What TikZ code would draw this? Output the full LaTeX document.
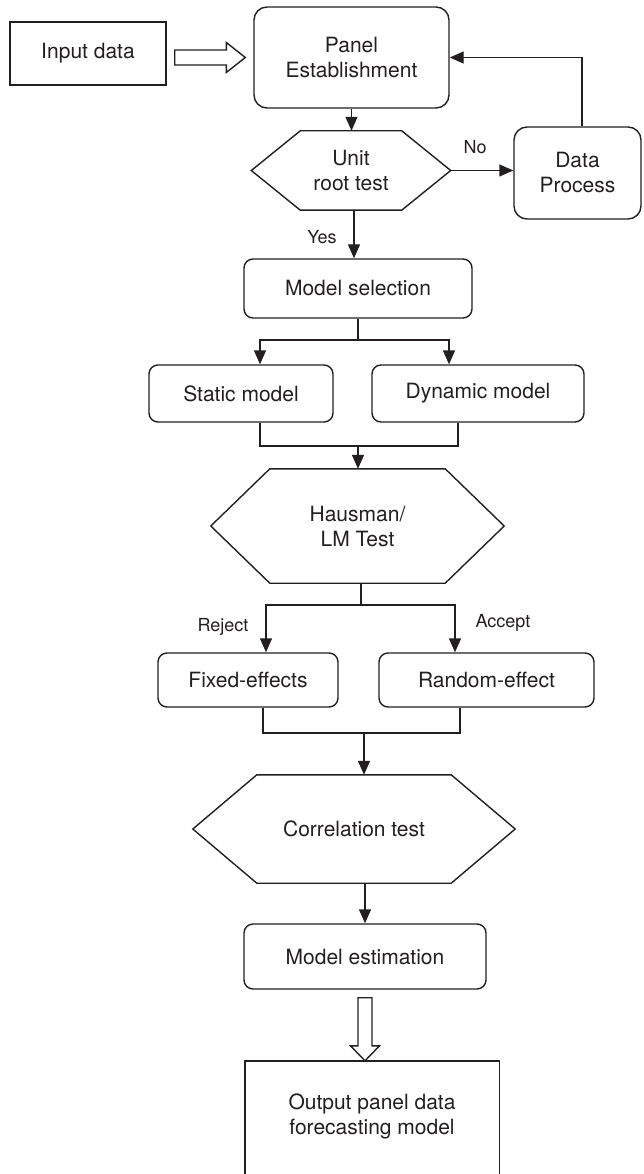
\documentclass[tikz,border=0pt]{standalone}
\usepackage{fontspec}
\setmainfont{TeX Gyre Heros}
\usetikzlibrary{arrows.meta,calc}
\definecolor{ink}{HTML}{231F20}
\newcommand{\hexdraw}[2]{\draw[line] (#1.west) -- ([xshift=#2]#1.north west) -- ([xshift=-#2]#1.north east) -- (#1.east) -- ([xshift=-#2]#1.south east) -- ([xshift=#2]#1.south west) -- cycle;}
\begin{document}
\begin{tikzpicture}[x=1pt,y=-1pt,
  every node/.style={font=\fontsize{21}{25}\selectfont, text=ink, inner sep=0pt, align=center},
  line/.style={draw=ink, line width=1.4pt},
  plainbox/.style={line, rectangle},
  rbox/.style={line, rectangle, rounded corners=9pt},
  bigrbox/.style={line, rectangle, rounded corners=13pt},
  hexbox/.style={rectangle},
  lbl/.style={font=\fontsize{18}{21}\selectfont},
  arr/.style={line, -{Triangle[length=14pt,width=12pt]}},
  hollow/.style={line, fill=white, line join=miter}
]
\useasboundingbox (0,0) rectangle (643,1174);
\clip (0,0) rectangle (643,1174);

% nodes
\node[plainbox, minimum width=156pt, minimum height=63pt] (input) at (88,53.5) {Input data};
\node[bigrbox, minimum width=195pt, minimum height=101pt] (panel) at (351.5,57.5) {Panel\\Establishment};
\node[hexbox, minimum width=199pt, minimum height=79pt] (unit) at (351,170.5) {Unit\\root test};
\node[bigrbox, minimum width=127pt, minimum height=92pt] (data) at (577.5,173) {Data\\Process};
\node[rbox, minimum width=228pt, minimum height=59pt] (ms) at (358,288.5) {Model selection};
\node[rbox, minimum width=184pt, minimum height=57pt] (static) at (241,393.5) {Static model};
\node[rbox, minimum width=212pt, minimum height=57pt] (dynamic) at (478,393.5) {Dynamic model};
\node[hexbox, minimum width=293pt, minimum height=114pt] (haus) at (357.5,526) {Hausman/\\LM Test};
\node[rbox, minimum width=180pt, minimum height=54pt] (fixed) at (248,680) {Fixed-effects};
\node[rbox, minimum width=215pt, minimum height=54pt] (random) at (486.5,680) {Random-effect};
\node[hexbox, minimum width=322pt, minimum height=108pt] (corr) at (354,829) {Correlation test};
\node[rbox, minimum width=242pt, minimum height=65pt] (me) at (365,956.5) {Model estimation};
\node[rectangle, minimum width=254pt, minimum height=111pt] (out) at (372,1116.5) {Output panel data\\forecasting model};
% output box runs off the bottom edge of the picture
\draw[line] ([yshift=-12pt]out.south west) -- (out.north west) -- (out.north east) -- ([yshift=-12pt]out.south east);

% hexagons
\hexdraw{unit}{49pt}
\hexdraw{haus}{59pt}
\hexdraw{corr}{64pt}

% labels
\node[lbl] (no) at (475,147) {No};
\node[lbl] (yes) at (322,237) {Yes};
\node[lbl] (rej) at (223,627) {Reject};
\node[lbl] (acc) at (503,623) {Accept};

% junction coordinates
\coordinate (s1) at (358,340);
\coordinate (m1) at (358,446);
\coordinate (s2) at (361,605);
\coordinate (m2) at (364,733);

% hollow arrow input -> panel
\draw[hollow] let \p1=([xshift=8pt]input.east), \p2=([xshift=-8pt]panel.west) in
  (\x1,\y2+7.5pt) -- (\x2-19pt,\y2+7.5pt) -- (\x2-19pt,\y2+15pt) -- (\x2,\y2)
  -- (\x2-19pt,\y2-15pt) -- (\x2-19pt,\y2-7.5pt) -- (\x1,\y2-7.5pt) -- cycle;

% connectors
\draw[arr] (panel.south) -- (panel.south |- unit.north);
\draw[arr] (unit.east) -- (unit.east -| data.west);
\draw[arr] ([xshift=4.5pt]data.north) |- (panel.east);
\draw[arr] ([xshift=3pt]unit.south) -- ([xshift=3pt]unit.south |- ms.north);
\draw[line] (s1 |- ms.south) -- (s1);
\draw[arr] (s1) -| ([xshift=19pt]static.north);
\draw[arr] (s1) -| ([xshift=-29pt]dynamic.north);
\draw[line] ([xshift=19pt]static.south) |- (m1) -| ([xshift=-20pt]dynamic.south);
\draw[arr] (m1) -- (m1 |- haus.north);
\draw[line] (s2 |- haus.south) -- (s2);
\draw[arr] (s2) -| ([xshift=18pt]fixed.north);
\draw[arr] (s2) -| ([xshift=-31.5pt]random.north);
\draw[line] ([xshift=15pt]fixed.south) |- (m2) -| ([xshift=-26.5pt]random.south);
\draw[arr] (m2) -- (m2 |- corr.north);
\draw[arr] (me.north |- corr.south) -- (me.north);

% hollow arrow me -> out
\draw[hollow] let \p1=([yshift=-8pt]me.south), \p2=(out.north) in
  (\x1-7pt,\y1) -- (\x1-7pt,\y2+15pt) -- (\x1-14.5pt,\y2+15pt) -- (\x1,\y2)
  -- (\x1+14.5pt,\y2+15pt) -- (\x1+7pt,\y2+15pt) -- (\x1+7pt,\y1) -- cycle;
\end{tikzpicture}
\end{document}
